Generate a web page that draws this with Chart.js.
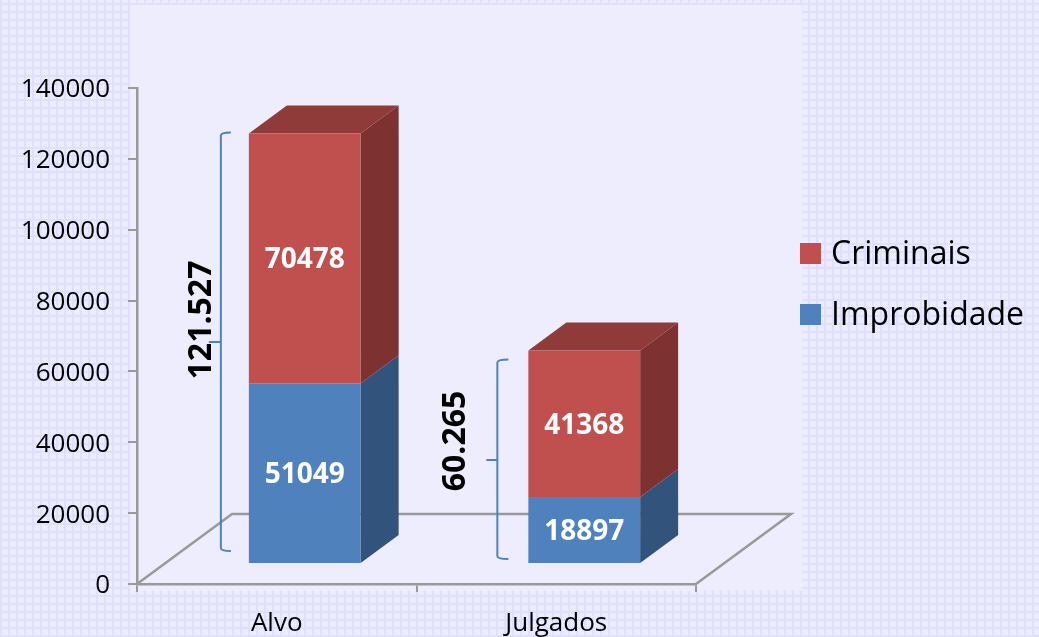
<!DOCTYPE html>
<html><head><meta charset="utf-8">
<style>
html,body{margin:0;padding:0;width:1039px;height:637px;overflow:hidden;background-color:#EBEBFE;
background-image:
 repeating-linear-gradient(90deg,#E0E0FD 0 2px,transparent 2px 8px),
 repeating-linear-gradient(0deg,#E0E0FD 0 2px,transparent 2px 8px),
 repeating-conic-gradient(#F2F2FF 0 25%,#E6E6FE 0 50%);
background-size:auto,auto,2px 2px;}
#wrap{position:absolute;left:0;top:0;width:1039px;height:637px}
</style>
<script src="https://cdn.jsdelivr.net/npm/chart.js@4"></script>
</head><body><div id="wrap"><canvas id="c" width="1039" height="637"></canvas></div>
<script>
const categories = ['Alvo', 'Julgados'];
const improbidade = [51049, 18897];
const criminais = [70478, 41368];
const totalLabels = ['121.527', '60.265'];
const yTicks = [0, 20000, 40000, 60000, 80000, 100000, 120000, 140000];

const FONT = '"Open Sans"';
const GREY = '#999999', BLUE_LINE = '#4F81BD';
const SHIFT = {x: 28, y: -20};           // front face offset inside the 3D floor
const DEPTH = {x: 38, y: -28};           // bar depth
const FLOOR = {x: 95, y: -70};           // floor depth
const SHADES = {
  Improbidade: {top: '#3F6797', side: '#32547C'},
  Criminais: {top: '#8E3B39', side: '#7D3130'}
};
const BRACES = [
  {dx: -28, hook: 10, top: -1, bottom: -12, nubY: 342, nub: -12, textX: 202, textY: 320},
  {dx: -31, hook: 11, top: 9, bottom: -4, nubY: 460, nub: -11, textX: 456, textY: 441}
];

const panel = {
  id: 'panel',
  beforeDraw(chart) {
    const c = chart.ctx;
    c.save(); c.fillStyle = '#EEEDFE'; c.fillRect(130, 5, 672, 586); c.restore();
    chart.scales.y.getLabelItems().forEach(it => { if (!it.nudged) { it.textOffset += 2; it.nudged = true; } });
  }
};
const bars3d = {
  id: 'bars3d',
  beforeDatasetsDraw(chart) {
    const c = chart.ctx, a = chart.chartArea;
    c.save();
    c.strokeStyle = GREY; c.lineWidth = 2.5;
    c.beginPath();
    c.moveTo(a.left, a.bottom);
    c.lineTo(a.left + FLOOR.x, a.bottom + FLOOR.y);
    c.lineTo(a.right + FLOOR.x, a.bottom + FLOOR.y);
    c.lineTo(a.right, a.bottom);
    c.stroke();
    c.restore();
    c.save();
    c.translate(SHIFT.x, SHIFT.y);
    chart.data.datasets.forEach((ds, i) => {
      const sh = SHADES[ds.label];
      chart.getDatasetMeta(i).data.forEach(el => {
        const l = el.x - el.width / 2, r = el.x + el.width / 2;
        c.fillStyle = sh.side;
        c.beginPath();
        c.moveTo(r, el.base); c.lineTo(r + DEPTH.x, el.base + DEPTH.y);
        c.lineTo(r + DEPTH.x, el.y + DEPTH.y); c.lineTo(r, el.y);
        c.closePath(); c.fill();
        if (i === chart.data.datasets.length - 1) {
          c.fillStyle = sh.top;
          c.beginPath();
          c.moveTo(l, el.y); c.lineTo(l + DEPTH.x, el.y + DEPTH.y);
          c.lineTo(r + DEPTH.x, el.y + DEPTH.y); c.lineTo(r, el.y);
          c.closePath(); c.fill();
        }
      });
    });
    c.restore();
    c.save();
    c.translate(SHIFT.x, SHIFT.y);
  },
  afterDatasetsDraw(chart) {
    const c = chart.ctx;
    c.restore();
    c.save();
    c.translate(SHIFT.x, SHIFT.y);
    c.fillStyle = '#FFFFFF';
    c.font = 'bold 28px ' + FONT;
    c.textAlign = 'center'; c.textBaseline = 'middle';
    chart.data.datasets.forEach((ds, i) => {
      chart.getDatasetMeta(i).data.forEach((el, j) => {
        c.fillText(String(ds.data[j]), el.x, (el.y + el.base) / 2 + 2);
      });
    });
    c.restore();
    // braces with the totals
    const top = chart.getDatasetMeta(1).data, low = chart.getDatasetMeta(0).data;
    BRACES.forEach((b, j) => {
      const x = top[j].x - top[j].width / 2 + SHIFT.x + b.dx;
      const y0 = top[j].y + SHIFT.y + b.top, y1 = low[j].base + SHIFT.y + b.bottom;
      c.save();
      c.strokeStyle = BLUE_LINE; c.lineWidth = 2;
      c.beginPath();
      c.moveTo(x + b.hook, y0); c.quadraticCurveTo(x, y0, x, y0 + 3);
      c.lineTo(x, y1 - 3); c.quadraticCurveTo(x, y1, x + b.hook, y1);
      c.moveTo(x, b.nubY); c.lineTo(x + b.nub, b.nubY);
      c.stroke();
      c.fillStyle = '#000000';
      c.font = 'bold 32px ' + FONT;
      c.textAlign = 'center'; c.textBaseline = 'middle';
      c.translate(b.textX, b.textY); c.rotate(-Math.PI / 2);
      c.fillText(totalLabels[j], 0, 0);
      c.restore();
    });
  }
};
const sideLegend = {
  id: 'sideLegend',
  afterDraw(chart) {
    const c = chart.ctx;
    c.save();
    c.textAlign = 'left'; c.textBaseline = 'middle';
    c.font = '32px ' + FONT;
    [...chart.data.datasets].reverse().forEach((ds, i) => {
      const y = 243 + i * 61;
      c.fillStyle = ds.backgroundColor;
      c.fillRect(800, y, 21, 21);
      c.fillStyle = '#000000';
      c.fillText(ds.label, 831, y + 12);
    });
    c.restore();
  }
};

new Chart(document.getElementById('c'), {
  type: 'bar',
  data: {
    labels: categories,
    datasets: [
      {label: 'Improbidade', data: improbidade, backgroundColor: '#4F81BD', stack: 's'},
      {label: 'Criminais', data: criminais, backgroundColor: '#C0504D', stack: 's'}
    ]
  },
  options: {
    responsive: false, animation: false,
    layout: {padding: {left: 0, top: 88, right: 343, bottom: 0}},
    plugins: {legend: {display: false}, tooltip: {enabled: false}},
    datasets: {bar: {barPercentage: 0.4, categoryPercentage: 1}},
    scales: {
      x: {
        stacked: true,
        afterFit(s) { s.height = 53; },
        border: {color: GREY, width: 2.5},
        grid: {drawOnChartArea: false, color: GREY, tickColor: GREY, tickLength: 8, lineWidth: 2},
        ticks: {color: '#000000', font: {family: FONT, size: 26}, padding: 16, maxRotation: 0}
      },
      y: {
        stacked: true, min: 0, max: 140000,
        afterFit(s) { s.width = 137; },
        afterBuildTicks(s) { s.ticks = yTicks.map(v => ({value: v})); },
        border: {color: GREY, width: 2.5},
        grid: {drawOnChartArea: false, color: GREY, tickColor: GREY, tickLength: 9, lineWidth: 2},
        ticks: {color: '#000000', font: {family: FONT, size: 26}, padding: 18, callback: v => String(v)}
      }
    }
  },
  plugins: [panel, bars3d, sideLegend]
});
</script></body></html>
